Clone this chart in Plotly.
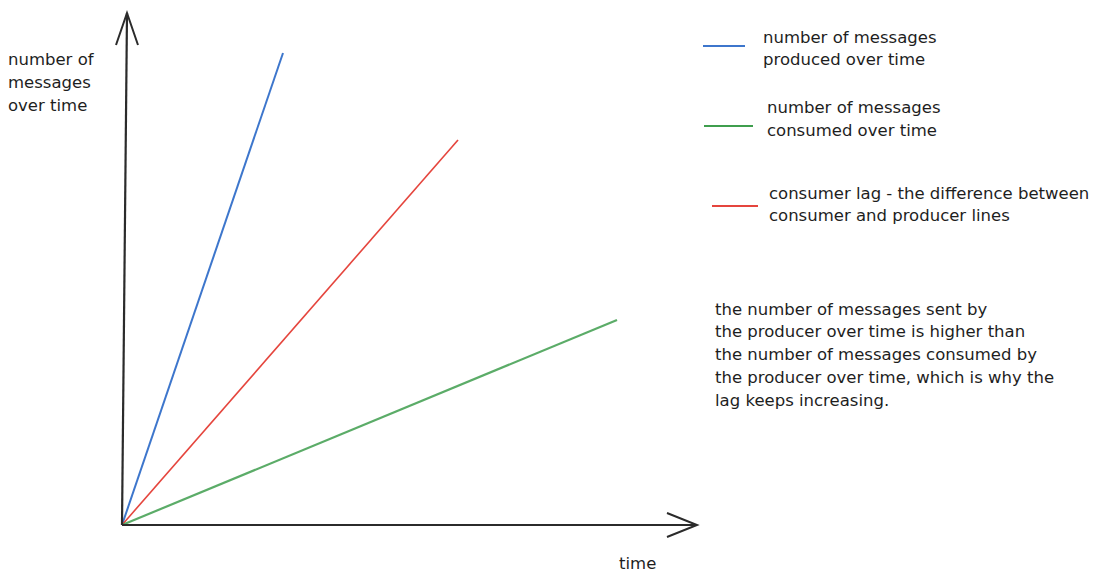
import plotly.graph_objects as go

# Message counts over time (time units, messages in the same drawing units)
produced_time = [0, 16.1]
produced_msgs = [0, 47.2]
lag_time = [0, 33.6]
lag_msgs = [0, 38.5]
consumed_time = [0, 49.5]
consumed_msgs = [0, 20.5]

legend_labels = [
    ["number of messages", "produced over time"],
    ["number of messages", "consumed over time"],
    ["consumer lag - the difference between", "consumer and producer lines"],
]
y_title = ["number of", "messages", "over time"]
x_title = "time"
note = ["the number of messages sent by",
        "the producer over time is higher than",
        "the number of messages consumed by",
        "the producer over time, which is why the",
        "lag keeps increasing."]

W, H = 1113, 575
FONT = "DejaVu Sans"
INK = "#2b2b2b"
BLUE, GREEN, RED = "#3d76cc", "#3f9e4e", "#e5453d"


def px(x, y):
    """Convert page pixel position to paper coordinates."""
    return x / W, 1 - y / H


fig = go.Figure()

fig.add_trace(go.Scatter(x=produced_time, y=produced_msgs, mode="lines",
                         line=dict(color=BLUE, width=2), hoverinfo="skip"))
fig.add_trace(go.Scatter(x=lag_time, y=lag_msgs, mode="lines",
                         line=dict(color=RED, width=1.6), hoverinfo="skip"))
fig.add_trace(go.Scatter(x=consumed_time, y=consumed_msgs, mode="lines",
                         line=dict(color=GREEN, width=2.2), opacity=0.85,
                         hoverinfo="skip"))

shapes = []
# y axis with open arrow head
shapes.append(dict(type="path", xref="x", yref="y",
                   path="M 0,0 L 0.5,51.2",
                   line=dict(color=INK, width=2.2)))
shapes.append(dict(type="path", xref="x", yref="y",
                   path="M -0.6,48.0 L 0.5,51.2 L 1.6,48.0",
                   line=dict(color=INK, width=2)))
# x axis with open arrow head
shapes.append(dict(type="path", xref="x", yref="y",
                   path="M 0,0 L 57.5,0",
                   line=dict(color=INK, width=2.2)))
shapes.append(dict(type="path", xref="x", yref="y",
                   path="M 54.5,1.2 L 57.5,0 L 54.5,-1.2",
                   line=dict(color=INK, width=2)))

# legend key strokes
keys = [((703, 46), (745, 46), BLUE), ((704, 126), (753, 126), GREEN),
        ((712, 206), (758, 206), RED)]
for (x0, y0), (x1, y1), c in keys:
    a = px(x0, y0)
    b = px(x1, y1)
    shapes.append(dict(type="line", xref="paper", yref="paper",
                       x0=a[0], y0=a[1], x1=b[0], y1=b[1],
                       line=dict(color=c, width=2.2)))

annotations = []
font = dict(family=FONT, size=16.5, color="#1e1e1e")


def text_block(x, y_first, lines, step=22.8, anchor="left", vanchor="middle"):
    for i, s in enumerate(lines):
        p = px(x, y_first + i * step)
        annotations.append(dict(xref="paper", yref="paper", x=p[0], y=p[1],
                                text=s, showarrow=False, xanchor=anchor,
                                yanchor=vanchor, font=font, borderpad=0))


text_block(7, 60, y_title)
text_block(637, 574, [x_title], anchor="center", vanchor="bottom")
text_block(762, 37, legend_labels[0])
text_block(766, 108, legend_labels[1])
text_block(768, 193, legend_labels[2])
text_block(714, 309, note)

fig.update_layout(
    width=W, height=H,
    margin=dict(l=0, r=0, t=0, b=0),
    paper_bgcolor="white", plot_bgcolor="white",
    showlegend=False,
    xaxis=dict(range=[-12.2, 99.1], visible=False, fixedrange=True),
    yaxis=dict(range=[-5.0, 52.5], visible=False, fixedrange=True),
    shapes=shapes,
    annotations=annotations,
)

fig.write_html("out.html", config={"displayModeBar": False})
